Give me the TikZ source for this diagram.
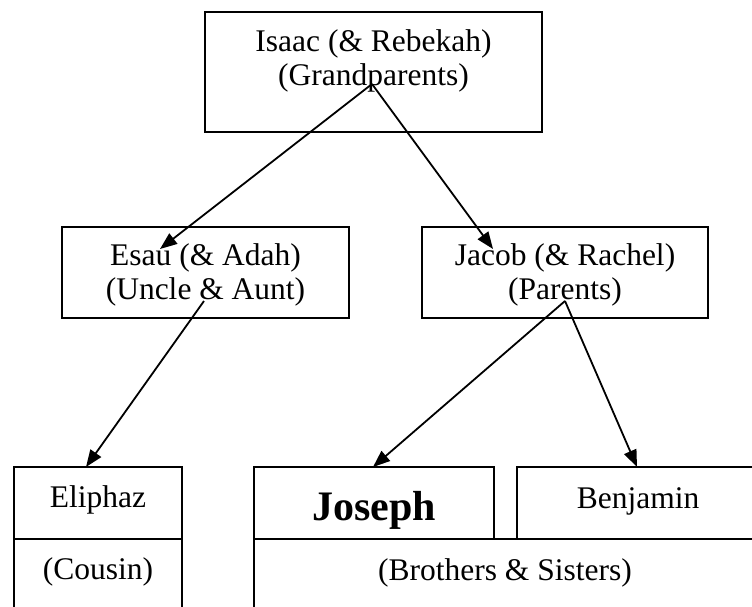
\documentclass[tikz,border=0pt]{standalone}
\usepackage{fontspec}
\setmainfont{Liberation Serif}
\usetikzlibrary{arrows.meta}
\begin{document}
\begin{tikzpicture}[x=1pt,y=-1pt,
  box/.style={draw=black,line width=2.2pt,inner sep=0pt,outer sep=0pt,rectangle},
  txt/.style={anchor=base,inner sep=0pt,font=\fontsize{31.5}{35}\selectfont},
  bigtxt/.style={anchor=base,inner sep=0pt,font=\fontsize{42}{46}\selectfont\bfseries},
  arr/.style={line width=1.8pt,-{Triangle[length=17pt,width=13pt]}}]
\useasboundingbox (0,0) rectangle (752,606);
\clip (0,0) rectangle (752,606);
% boxes
\node[box,minimum width=337pt,minimum height=120pt] (isaac) at (373.5,72) {};
\node[box,minimum width=287pt,minimum height=91pt] (esau) at (205.5,272.5) {};
\node[box,minimum width=286pt,minimum height=91pt] (jacob) at (565,272.5) {};
\node[box,minimum width=168pt,minimum height=72pt] (eliphaz) at (98,503) {};
\node[box,minimum width=168pt,minimum height=81pt] (cousin) at (98,579.5) {};
\node[box,minimum width=240pt,minimum height=72pt] (joseph) at (374,503) {};
\node[box,minimum width=242pt,minimum height=72pt] (benjamin) at (638,503) {};
\node[box,minimum width=505pt,minimum height=81pt] (brothers) at (506.5,579.5) {};
% texts
\node[txt] (t1) at (373.5,51) {Isaac (\& Rebekah)};
\node[txt] (t2) at (373.5,85) {(Grandparents)};
\node[txt] (t3) at (205.5,265) {Esau (\& Adah)};
\node[txt] (t4) at (205.5,299) {(Uncle \& Aunt)};
\node[txt] (t5) at (565,265) {Jacob (\& Rachel)};
\node[txt] (t6) at (565,299) {(Parents)};
\node[txt] (t7) at (98,507) {Eliphaz};
\node[txt] (t8) at (98,579) {(Cousin)};
\node[bigtxt] (t9) at (374,520) {Joseph};
\node[txt] (t10) at (638,508) {Benjamin};
\node[txt] (t11) at (505,580) {(Brothers \& Sisters)};
% connector ends
\coordinate (isaacout) at (372,84);
\coordinate (esauin) at (160,249);
\coordinate (jacobin) at (493,249);
\coordinate (esauout) at (204,301);
\coordinate (eliphazin) at (86,467);
\coordinate (jacobout) at (565,301);
\coordinate (josephin) at (373,467);
\coordinate (benjaminin) at (637,467);
% connectors
\draw[arr] (isaacout) -- (esauin);
\draw[arr] (isaacout) -- (jacobin);
\draw[arr] (esauout) -- (eliphazin);
\draw[arr] (jacobout) -- (josephin);
\draw[arr] (jacobout) -- (benjaminin);
\end{tikzpicture}
\end{document}
